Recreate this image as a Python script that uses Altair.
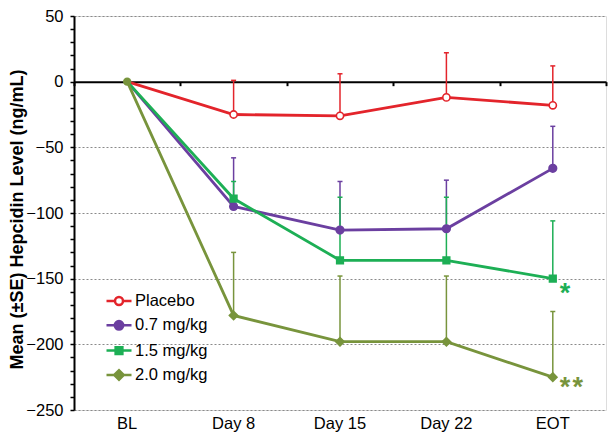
import altair as alt
import pandas as pd

visits = ["BL", "Day 8", "Day 15", "Day 22", "EOT"]
groups = ["Placebo", "0.7 mg/kg", "1.5 mg/kg", "2.0 mg/kg"]
colors = ["#E3242B", "#6B3FA0", "#1DAF55", "#78943C"]
fills = ["#FFFFFF", "#6B3FA0", "#1DAF55", "#78943C"]
shapes = ["circle", "circle", "square", "diamond"]
sizes = [52, 58, 44, 70]

placebo_mean = [0, -25, -26, -12, -18]
placebo_upper = [None, 1, 6, 22, 12]
d07_mean = [0, -95, -113, -112, -66]
d07_upper = [None, -58, -76, -75, -34]
d15_mean = [0, -89, -136, -136, -150]
d15_upper = [None, -76, -88, -88, -106]
d20_mean = [0, -178, -198, -198, -225]
d20_upper = [None, -130, -148, -148, -175]

means = [placebo_mean, d07_mean, d15_mean, d20_mean]
uppers = [placebo_upper, d07_upper, d15_upper, d20_upper]

rows = []
for g, m, u in zip(groups, means, uppers):
    for v, mv, uv in zip(visits, m, u):
        rows.append({"visit": v, "grp": g, "mean": mv, "upper": uv})
df = pd.DataFrame(rows)

FONT = "Liberation Sans"
W, H = 532, 394
y0 = H * 50 / 300

xscale = alt.Scale(type="band", domain=visits, paddingInner=0, paddingOuter=0)
yscale = alt.Scale(domain=[-250, 50], nice=False, zero=False)

base = alt.Chart(df)

def X(axis=None):
    return alt.X("visit:N", sort=visits, scale=xscale, axis=axis)

yaxis = alt.Axis(
    values=list(range(-250, 51, 10)),
    labelExpr="datum.value % 50 === 0 ? datum.label : ''",
    labelOverlap=False,
    tickSize=4, tickWidth=1.5, tickColor="black",
    domainColor="black", domainWidth=2,
    grid=True, gridColor="#8a8a8a", gridDash=[2, 2], gridWidth=1,
    gridOpacity={"condition": {"test": "datum.value % 50 === 0", "value": 1}, "value": 0},
    labelPadding=7, labelFont=FONT, labelFontSize=16.5, labelColor="black",
    title="Mean (±SE) Hepcidin Level (ng/mL)",
    titleFont=FONT, titleFontSize=18, titleFontWeight="bold", titleColor="black",
    titleX=-48, titleY=203, titleBaseline="bottom", titleAngle=270,
)

def Y(field):
    return alt.Y(field, scale=yscale, axis=yaxis)

xlabel_axis = alt.Axis(
    orient="bottom", domain=False, ticks=False, grid=False,
    labelPadding=5, labelFont=FONT, labelFontSize=16.5, labelColor="black",
    labelAngle=0, title=None,
)
xzero_axis = alt.Axis(
    orient="bottom", offset=y0 - H, labels=False, domain=True,
    domainColor="black", domainWidth=2, ticks=True, tickBand="extent",
    tickSize=4, tickWidth=2, tickColor="black", grid=False, title=None,
)

layers = []

# error bars
for g, c in zip(groups, colors):
    sub = base.transform_filter(alt.datum.grp == g).transform_filter("isValid(datum.upper)")
    layers.append(sub.mark_rule(color=c, strokeWidth=1.5).encode(
        x=X(), y=Y("mean:Q"), y2="upper:Q"))
    layers.append(sub.mark_tick(color=c, thickness=1.5, size=5, opacity=1).encode(
        x=X(), y=Y("upper:Q")))

# lines
for i, (g, c) in enumerate(zip(groups, colors)):
    sub = base.transform_filter(alt.datum.grp == g)
    layers.append(sub.mark_line(color=c, strokeWidth=2.8).encode(
        x=X(xlabel_axis if i == 0 else (xzero_axis if i == 1 else None)),
        y=Y("mean:Q")))

# markers
for g, c, f, s, sz in zip(groups, colors, fills, shapes, sizes):
    sub = base.transform_filter(alt.datum.grp == g).transform_filter(alt.datum.visit != "BL")
    layers.append(sub.mark_point(shape=s, filled=True, fill=f, stroke=c, color=c,
                                 size=sz, strokeWidth=1.6, opacity=1).encode(
        x=X(), y=Y("mean:Q")))

# baseline marker
bl = base.transform_filter(alt.datum.grp == groups[3]).transform_filter(alt.datum.visit == "BL")
layers.append(bl.mark_point(shape="circle", filled=True, color=colors[3], size=70, opacity=1).encode(
    x=X(), y=Y("mean:Q")))

# significance annotations
ann1 = base.transform_filter(alt.datum.grp == groups[2]).transform_filter(alt.datum.visit == "EOT")
layers.append(ann1.mark_text(text="*", align="left", baseline="alphabetic", dx=7, dy=23,
                             font=FONT, fontSize=27, fontWeight="bold", color=colors[2]).encode(
    x=X(), y=Y("mean:Q")))
ann2 = base.transform_filter(alt.datum.grp == groups[3]).transform_filter(alt.datum.visit == "EOT")
layers.append(ann2.mark_text(text="*\u200a*", align="left", baseline="alphabetic", dx=7, dy=19,
                             font=FONT, fontSize=27, fontWeight="bold", color=colors[3]).encode(
    x=X(), y=Y("mean:Q")))

# legend layer (line + marker symbols)
paths = [
    "M-1,0L-0.32,0M0.32,0L1,0M0.32,0A0.32,0.32,0,1,1,-0.32,0A0.32,0.32,0,1,1,0.32,0Z",
    "M-1,0L1,0M0.34,0A0.34,0.34,0,1,1,-0.34,0A0.34,0.34,0,1,1,0.34,0Z",
    "M-1,0L1,0M-0.27,-0.27L0.27,-0.27L0.27,0.27L-0.27,0.27Z",
    "M-1,0L1,0M-0.38,0L0,-0.38L0.38,0L0,0.38Z",
]
leg = alt.Legend(
    orient="none", legendX=31, legendY=271, title=None,
    symbolSize=625, symbolStrokeWidth=2.5, symbolOpacity=1,
    labelFont=FONT, labelFontSize=16.5, labelColor="black", labelOffset=2,
    rowPadding=1.3, padding=0,
)
legend_layer = base.transform_filter("false").mark_point(filled=True, opacity=1, strokeWidth=2.5).encode(
    fill=alt.Fill("grp:N", scale=alt.Scale(domain=groups, range=fills), legend=leg),
    stroke=alt.Stroke("grp:N", scale=alt.Scale(domain=groups, range=colors), legend=leg),
    shape=alt.Shape("grp:N", scale=alt.Scale(domain=groups, range=paths), legend=leg),
)
layers.append(legend_layer)

chart = alt.layer(*layers).resolve_axis(x="independent").properties(
    width=W, height=H,
    autosize=alt.AutoSizeParams(type="none"),
    padding={"left": 66, "top": 8, "right": 2, "bottom": 22},
).configure_view(stroke=None).configure(background="white")

chart.save("out.html", embed_options={"renderer": "svg", "actions": False})
